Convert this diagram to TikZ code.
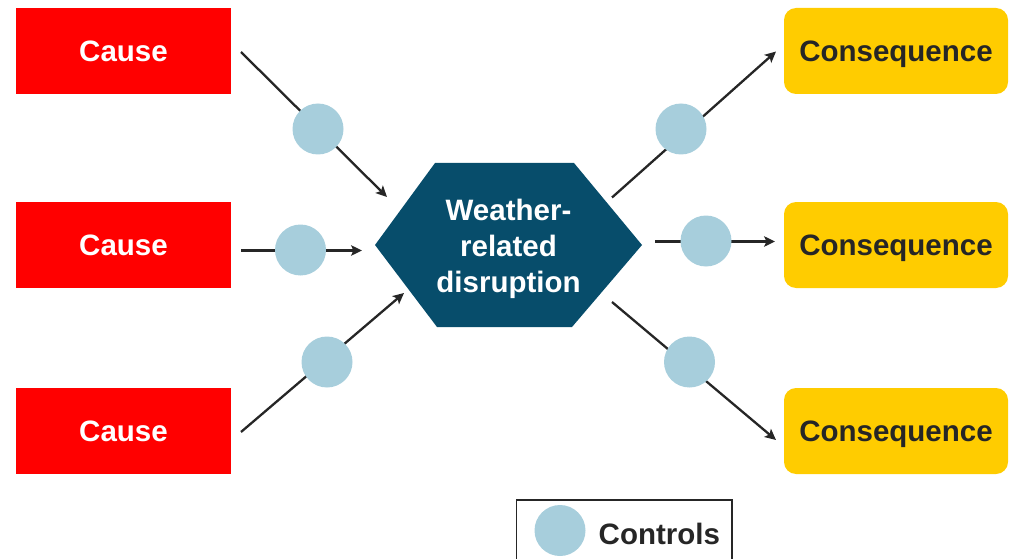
\documentclass[tikz,border=0pt]{standalone}
\usepackage{fontspec}
\setmainfont{Liberation Sans}
\usetikzlibrary{arrows.meta}

\definecolor{causered}{HTML}{FF0000}
\definecolor{consyellow}{HTML}{FFCC00}
\definecolor{hubblue}{HTML}{074D6B}
\definecolor{ctrlblue}{HTML}{A7CEDC}
\definecolor{inkgray}{HTML}{262626}

\tikzset{
  labelfont/.style={font=\bfseries\fontsize{29.5}{36}\selectfont},
  cause/.style={labelfont, fill=causered, text=white, minimum width=215pt,
    minimum height=86pt, inner sep=0pt, text depth=-3pt},
  consequence/.style={labelfont, fill=consyellow, text=inkgray, rounded corners=12pt,
    minimum width=224pt, minimum height=86pt, inner sep=0pt, text depth=-2pt},
  control/.style={circle, fill=ctrlblue, minimum size=51pt, inner sep=0pt},
  link/.style={draw=inkgray, line width=2.3pt,
    -{Stealth[length=11pt,width=10.5pt,inset=2.5pt]}},
}

\begin{document}
\begin{tikzpicture}[x=1pt,y=-1pt]
  \useasboundingbox (0,0) rectangle (1015,559);

  % causes on the left
  \node[cause] (c1) at (123.5,51)  {Cause};
  \node[cause] (c2) at (123.5,245) {Cause};
  \node[cause] (c3) at (123.5,431) {Cause};

  % consequences on the right
  \node[consequence] (q1) at (896,51)  {Consequence};
  \node[consequence] (q2) at (896,245) {Consequence};
  \node[consequence] (q3) at (896,431) {Consequence};

  % central hazard hexagon
  \fill[hubblue] (375,245) -- (435,163) -- (574,163) -- (642,245)
    -- (572,327) -- (437,327) -- cycle;
  \node[labelfont, text=white, align=center, inner sep=0pt] (hub) at (508.5,249)
    {Weather-\\related\\disruption};

  % connector end points
  \coordinate (s1) at (241,52);    \coordinate (t1) at (387,197);
  \coordinate (s2) at (241,250.5); \coordinate (t2) at (362,250.5);
  \coordinate (s3) at (241,432);   \coordinate (t3) at (404,293);
  \coordinate (s4) at (612,197.5); \coordinate (t4) at (776,51.5);
  \coordinate (s5) at (655,241.5); \coordinate (t5) at (775,241.5);
  \coordinate (s6) at (612,302);   \coordinate (t6) at (776,440);

  \draw[link] (s1) -- (t1);
  \draw[link] (s2) -- (t2);
  \draw[link] (s3) -- (t3);
  \draw[link] (s4) -- (t4);
  \draw[link] (s5) -- (t5);
  \draw[link] (s6) -- (t6);

  % control barriers on each path
  \node[control] (b1) at (318,129) {};
  \node[control] (b2) at (300.5,250) {};
  \node[control] (b3) at (327,362) {};
  \node[control] (b4) at (681,129) {};
  \node[control] (b5) at (706,241) {};
  \node[control] (b6) at (689.5,362) {};

  % legend
  \coordinate (lg1) at (516.5,559);
  \coordinate (lg2) at (516.5,500);
  \coordinate (lg3) at (732,500);
  \coordinate (lg4) at (732,559);
  \draw[inkgray, line width=1.4pt] (lg1) -- (lg2) -- (lg3) -- (lg4);
  \node[control] (lgc) at (560,530.5) {};
  \node[labelfont, text=inkgray, anchor=west, inner sep=0pt, text depth=0pt]
    (lgt) at (598.5,534) {Controls};
\end{tikzpicture}
\end{document}
